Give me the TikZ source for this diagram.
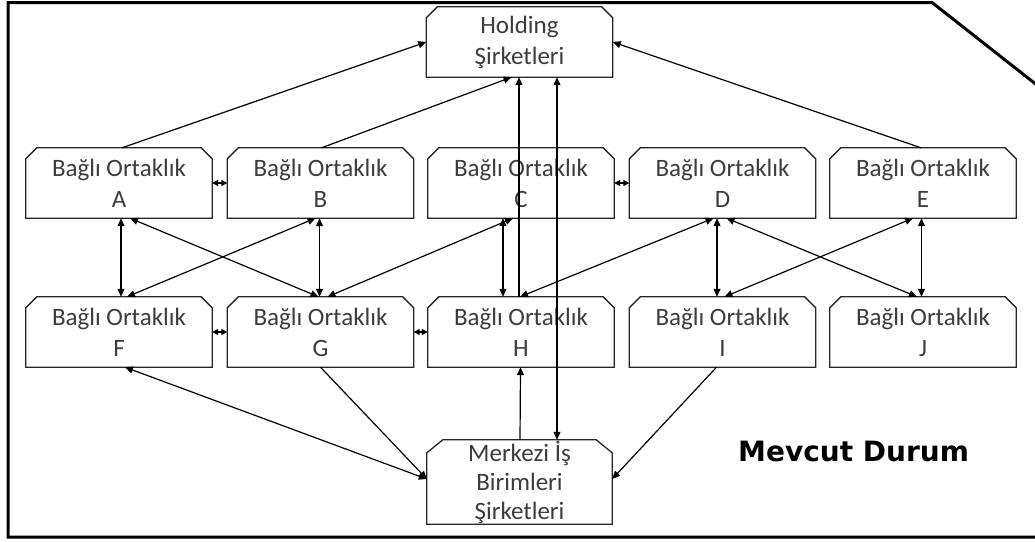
\documentclass[tikz,border=0pt]{standalone}
\usepackage{fontspec}
\setmainfont{Carlito}
\newfontfamily\mevfont{DejaVu Sans}
\usetikzlibrary{arrows.meta,calc}
\definecolor{txtgray}{HTML}{3C3C3C}
\tikzset{
  box/.style={rectangle, minimum width=186pt, minimum height=70pt, inner sep=0pt,
    align=center, text=txtgray, font=\fontsize{25}{28}\selectfont},
  boxline/.style={line width=1.3pt, draw=black!85, line join=miter},
  conn/.style={line width=1.2pt, >={Triangle[length=8pt,width=7pt]}},
  tiny/.style={line width=1.2pt, >={Triangle[length=6pt,width=6pt]}},
  frame/.style={line width=3pt, draw=black},
}
\newcommand\chbox[3]{%
  \draw[boxline] (#1.south west) -- ([yshift=-#3pt]#1.north west) -- ([xshift=#2pt]#1.north west)
    -- ([xshift=-#2pt]#1.north east) -- ([yshift=-#3pt]#1.north east) -- (#1.south east) -- cycle;}
\begin{document}
\begin{tikzpicture}[x=1pt,y=-1pt]
\useasboundingbox (0,0) rectangle (1035,541);
% frame
\draw[frame] (1045,537) -- (8,537) -- (8,2.5) -- (932,2.5) -- (1045,91.4);
% nodes
\node[box] (hold) at (519.5,42) {Holding\\[3pt]Şirketleri};
\node[box] (A) at (119,183) {Bağlı Ortaklık\\[3pt]A};
\node[box] (B) at (320.5,183) {Bağlı Ortaklık\\[3pt]B};
\node[box] (C) at (521,183) {Bağlı Ortaklık\\[3pt]C};
\node[box] (D) at (722.5,183) {Bağlı Ortaklık\\[3pt]D};
\node[box] (E) at (923,183) {Bağlı Ortaklık\\[3pt]E};
\node[box] (F) at (119,332) {Bağlı Ortaklık\\[3pt]F};
\node[box] (G) at (320.5,332) {Bağlı Ortaklık\\[3pt]G};
\node[box] (H) at (521,332) {Bağlı Ortaklık\\[3pt]H};
\node[box] (I) at (722.5,332) {Bağlı Ortaklık\\[3pt]I};
\node[box] (J) at (923,332) {Bağlı Ortaklık\\[3pt]J};
\node[box, minimum width=185pt, minimum height=84pt] (mer) at (519.5,482) {Merkezi İş\\[1pt]Birimleri\\[1pt]Şirketleri};
\node[font=\mevfont\bfseries\fontsize{28}{30}\selectfont, anchor=base west, inner sep=0pt] (mev) at (738,461) {Mevcut Durum};
% outlines
\foreach \n in {hold,A,B,C,D,E,F,G,H,I,J} {\chbox{\n}{11}{11}}
\chbox{mer}{16}{13}
% to holding
\draw[conn,->] ([xshift=3pt]A.north) -- (hold.west);
\draw[conn,->] ([xshift=1pt]B.north) -- ([xshift=-8pt]hold.south);
\draw[conn,->] ([xshift=-2pt]E.north) -- (hold.east);
\draw[conn,->] ([xshift=-2pt]H.north) -- ([xshift=-0.5pt]hold.south);
\draw[conn,<->] ([xshift=37.5pt]hold.south) -- ([xshift=37.5pt]mer.north);
% short horizontal
\draw[tiny,<->] (A.east) -- (B.west);
\draw[tiny,<->] (C.east) -- (D.west);
\draw[tiny,<->] (F.east) -- (G.west);
\draw[tiny,<->] (G.east) -- (H.west);
% between rows
\draw[conn,<->] ([xshift=2pt]A.south) -- ([xshift=2pt]F.north);
\draw[conn,<->] ([xshift=11pt]A.south) -- ([xshift=-2pt]G.north);
\draw[conn,<->] ([xshift=-5pt]B.south) -- ([xshift=8pt]F.north);
\draw[conn,<->] ([xshift=-1pt]B.south) -- ([xshift=-1pt]G.north);
\draw[conn,<->] ([xshift=-8pt]C.south) -- ([xshift=7pt]G.north);
\draw[conn,<->] ([xshift=-18pt]C.south) -- ([xshift=-18pt]H.north);
\draw[conn,<->] ([xshift=-9pt]D.south) -- ([xshift=-1pt]H.north);
\draw[conn,<->] ([xshift=-5.5pt]D.south) -- ([xshift=-5.5pt]I.north);
\draw[conn,<->] ([xshift=4pt]D.south) -- ([xshift=-6pt]J.north);
\draw[conn,<->] ([xshift=-10pt]E.south) -- ([xshift=2pt]I.north);
\draw[conn,<->] ([xshift=-1.5pt]E.south) -- ([xshift=-1.5pt]J.north);
% bottom
\draw[conn,->] ([xshift=0.5pt]mer.north) -- ([xshift=-0.5pt]H.south);
\draw[conn,<->] ([xshift=6pt]F.south) -- ([yshift=3pt]mer.west);
\draw[conn,->] (G.south) -- ([yshift=3pt]mer.west);
\draw[conn,->] ([xshift=-6pt]I.south) -- ([yshift=3pt]mer.east);
\end{tikzpicture}
\end{document}
